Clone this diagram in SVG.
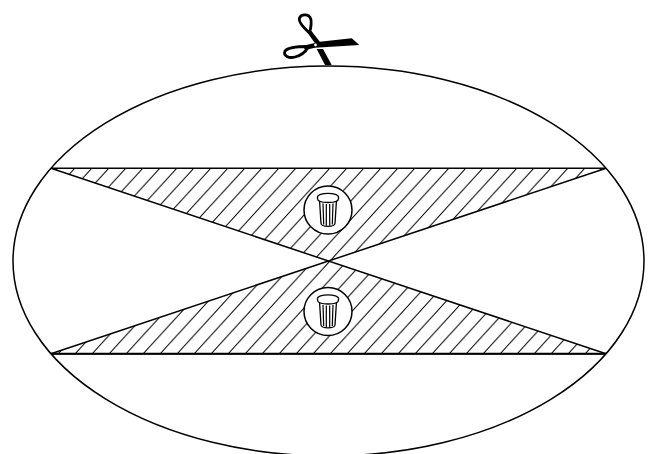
<svg xmlns="http://www.w3.org/2000/svg" width="651" height="454" viewBox="0 0 651 454">
<style>
.o{fill:none;stroke:#000}
.e{stroke-width:1.5}
.r{fill:#fff;stroke:#000;stroke-width:1.5}
.can{fill:#fff;stroke:#000;stroke-width:1.3}
</style>
<defs>
<pattern id="hatch" patternUnits="userSpaceOnUse" x="75" y="168" width="17" height="18.6">
<path d="M-1,1.1 L1,-1.1 M0,18.6 L17,0 M16,19.7 L18,17.5" stroke="#000" stroke-width="1" fill="none"/>
</pattern>
<g id="can">
<path class="can" d="M-8.5,-10 L-7,13.5 Q-6.5,16.3 0,16.3 Q6.5,16.3 7,13.5 L8.5,-10Z"/>
<path class="o" stroke-width="1.2" d="M-5,-6.5 L-4.3,14.5 M-1.7,-6 V15.5 M1.7,-6 V15.5 M5,-6.5 L4.3,14.5"/>
<ellipse class="can" cx="0" cy="-13" rx="10.5" ry="3.6"/>
<path class="can" d="M-10.5,-13 V-11.5 Q-10.5,-7.5 0,-7.5 Q10.5,-7.5 10.5,-11.5 V-13"/>
</g>
</defs>
<g id="connectors">
<ellipse id="oval" class="o e" cx="328.5" cy="261" rx="315.5" ry="195"/>
<polygon points="51,168.3 606,168.3 328,261" fill="url(#hatch)"/>
<polygon points="51,353.7 606,353.7 328,261" fill="url(#hatch)"/>
<path class="o e" d="M51,168.3 H606 L51,353.7 H606 L51,168.3"/>
<path class="o" stroke="#444" stroke-width="2" d="M51,353.7 H606"/>
</g>
<g id="scissors">
<path d="M315,42.3 L351.7,38.3 L359.3,45 L315,47.7 Z" fill="#000"/>
<path d="M316.7,49 L323,49 L331.7,65 L325,65 Z" fill="#000"/>
<path d="M307,32 L311.5,31 L320,42 L315.5,44 Z" fill="#000"/>
<path d="M303,45.7 L315,43 L315,47.7 L305,50 Z" fill="#000"/>
<path class="o" stroke-width="2.8" d="M309.5,33 C304,28 298,22 299.5,18 C301,14 309,13.5 310.8,19 C312,24 310.5,29 309.5,33"/>
<path class="o" stroke-width="2.8" d="M307,46.5 C298,46.5 288,47.5 285,51 C283,56 289,58.5 295,57 C301,55.5 306,51 308,47.5"/>
<circle cx="315.5" cy="45" r="1.4" fill="#fff"/>
</g>
<g id="trash-upper" transform="translate(328,210)">
<circle class="r" r="24"/>
<use href="#can"/>
</g>
<g id="trash-lower" transform="translate(328,311.5)">
<circle class="r" r="24"/>
<use href="#can"/>
</g>
</svg>
